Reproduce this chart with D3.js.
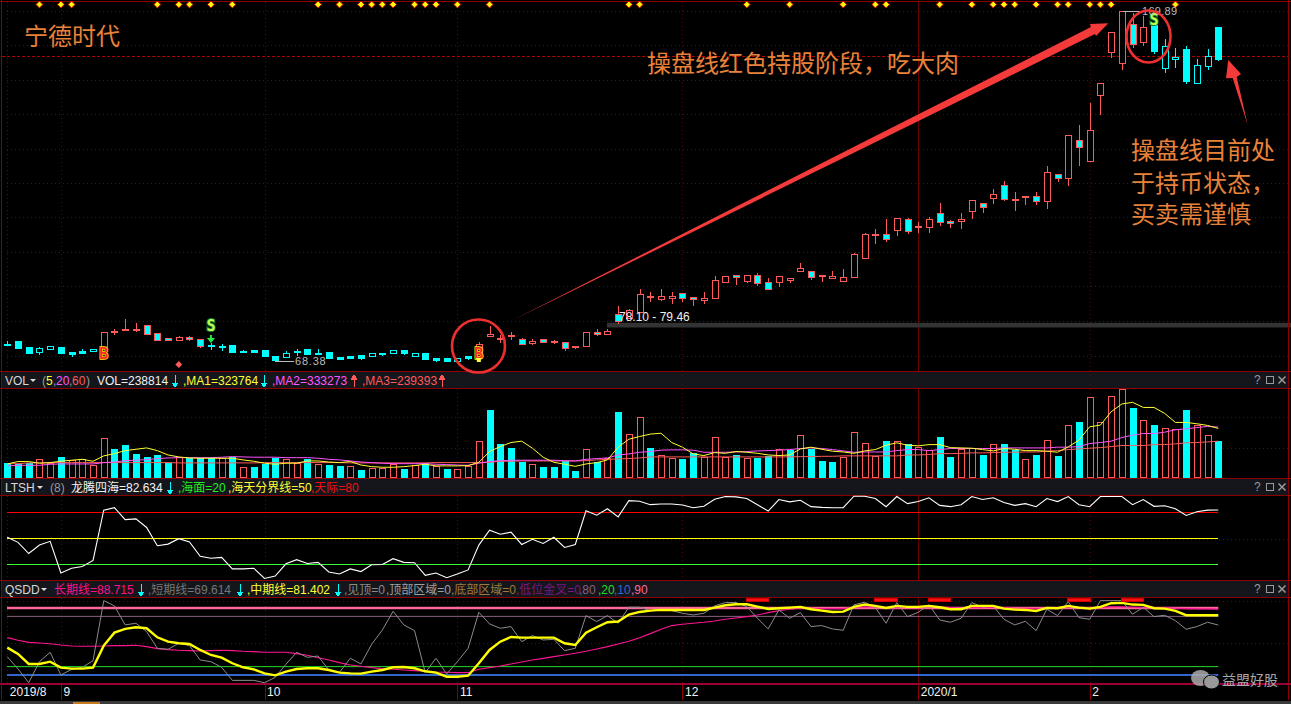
<!DOCTYPE html>
<html><head><meta charset="utf-8">
<script src="https://cdn.jsdelivr.net/npm/d3@7/dist/d3.min.js"></script>
<style>html,body{margin:0;padding:0;background:#000;overflow:hidden}svg{display:block}text{font-family:"Liberation Sans","Noto Sans CJK SC",sans-serif}</style>
</head><body><svg id="c" width="1291" height="704"></svg>
<script>
const opens=[73.17,74.09,72.44,71.08,71.95,72.44,71.0,71.37,71.19,72.35,
76.79,77.46,77.66,78.73,76.41,74.96,74.38,75.34,74.67,72.91,
72.62,73.02,71.28,71.48,71.48,69.83,69.63,71.0,71.77,70.79,
70.9,69.54,69.83,70.03,69.74,70.5,70.61,71.48,69.74,70.61,
69.16,69.25,68.38,69.74,69.83,75.72,74.88,75.63,74.67,73.69,
74.67,73.8,73.98,72.64,72.82,76.7,76.3,81.92,80.76,82.68,
87.23,86.45,86.73,88.01,86.85,86.16,86.73,91.38,93.23,91.67,
93.23,91.2,91.38,91.96,94.57,94.39,92.94,92.54,91.67,92.83,
98.25,104.83,105.12,106.46,109.65,107.15,107.33,111.21,108.89,108.89,
111.79,114.11,115.74,119.33,115.27,115.85,116.14,114.87,122.52,121.54,
132.38,126.47,145.61,158.08,154.89,166.02,160.98,165.82,153.44,155.87,
158.77,148.91,154.02,165.24];
const closes=[73.45,72.24,70.79,72.06,72.64,70.79,70.41,70.79,71.77,76.7,
77.08,77.66,77.8,76.3,74.38,74.38,75.34,74.67,72.64,72.73,
72.44,71.08,71.08,71.08,69.92,68.67,70.7,71.16,70.5,70.5,
69.34,69.05,69.34,69.34,70.7,70.7,71.48,70.79,70.61,69.05,
68.76,68.47,69.25,69.25,73.22,76.12,75.05,75.83,73.4,74.18,
73.8,74.18,72.24,72.44,76.7,76.12,77.0,80.07,83.26,87.72,
87.06,87.14,87.14,86.65,86.27,86.56,91.78,92.94,92.65,93.23,
91.09,89.35,92.94,92.36,95.26,92.83,93.23,92.94,92.65,99.32,
105.12,105.12,103.85,109.76,106.17,107.44,109.56,108.78,108.31,109.47,
114.98,113.13,116.72,115.45,115.45,116.32,114.87,123.1,121.54,133.83,
130.53,135.28,148.91,163.7,169.79,160.22,165.15,158.37,159.64,156.45,
149.58,154.13,156.74,155.96];
const highs=[74.18,74.09,72.44,72.35,72.64,72.44,71.0,71.86,71.77,76.7,
77.52,80.56,79.31,78.73,76.41,74.96,75.63,75.54,74.67,73.69,
73.31,73.02,71.66,71.48,71.48,69.83,71.37,71.86,71.77,71.77,
70.9,69.54,69.83,70.03,70.7,70.7,71.48,71.48,70.61,70.61,
69.16,69.25,69.25,69.74,73.8,78.53,75.92,76.79,75.05,74.76,
74.67,74.47,73.98,72.64,76.7,77.66,77.66,84.33,83.46,89.17,
88.3,89.17,88.39,88.01,86.85,88.39,92.94,92.94,93.23,93.23,
93.81,92.45,92.94,92.36,96.71,94.39,93.23,94.39,94.97,99.79,
105.5,106.57,109.56,109.76,109.94,108.78,110.14,114.2,109.27,111.21,
114.98,114.11,118.17,120.49,117.39,116.32,117.39,124.93,122.52,133.83,
136.82,143.2,148.91,163.7,169.89,169.21,168.43,165.82,161.67,159.06,
159.73,155.87,158.77,165.24];
const lows=[73.02,72.24,70.79,70.41,71.95,70.79,69.92,70.79,71.19,72.15,
76.21,77.46,77.08,76.3,74.38,74.38,74.38,74.38,72.35,71.95,
71.66,71.08,71.08,71.08,69.92,68.38,69.63,70.21,70.5,70.5,
69.34,68.87,69.34,69.05,69.74,70.12,70.61,70.41,69.74,69.05,
68.47,68.47,68.38,68.96,69.83,75.63,73.89,74.84,73.4,73.4,
73.8,73.51,71.57,72.15,72.82,75.92,76.3,79.49,80.76,82.68,
85.78,86.16,85.29,85.78,84.71,85.29,86.73,91.38,90.71,91.38,
90.51,89.35,90.13,91.38,94.57,92.25,91.67,92.54,91.67,92.83,
98.25,102.69,103.27,104.92,105.59,105.88,105.88,107.91,107.24,106.95,
109.85,111.59,114.29,115.07,112.17,114.0,114.0,112.84,120.67,119.42,
125.31,126.47,140.01,156.54,153.15,159.35,160.02,157.79,152.28,153.73,
149.09,148.91,153.06,155.76];
// first and last index of the red holding stages of the trading line
const redStages=[[9,18],[44,106]];
const volK=[94,87,94,118,96,134,112,118,80,259,187,214,154,134,147,94,136,125,125,125,125,136,67,67,89,129,118,92,118,87,80,74,74,47,62,58,87,54,80,96,
71,54,51,74,239,449,221,194,100,85,67,67,107,40,185,103,125,435,286,400,194,145,125,121,158,136,266,132,145,125,129,138,185,183,279,190,107,100,136,299,
230,141,239,237,219,203,179,266,132,187,196,145,217,219,179,123,145,250,138,350,366,531,364,538,585,460,377,346,330,317,446,344,283,239];
const volUp=[0,0,0,1,1,0,1,1,1,1,0,0,0,0,0,0,1,0,0,0,1,0,1,0,0,0,1,1,0,1,0,0,1,0,1,1,1,0,1,0,
1,0,1,1,1,0,0,0,0,1,0,0,0,0,1,0,1,0,1,1,0,1,1,0,0,1,1,1,0,1,0,0,1,0,1,0,0,0,1,1,
1,1,0,1,0,1,1,0,0,1,1,0,1,0,0,1,0,1,0,1,0,1,1,1,1,0,1,0,1,1,0,1,1,0];
const ma1=[87,103,103,92,96,105,112,118,105,141,156,176,185,194,176,147,134,127,125,125,125,125,114,105,92,85,92,92,107,107,100,96,103,80,69,65,65,69,76,85,
74,74,74,76,98,170,203,230,239,192,132,98,85,71,87,96,114,199,252,270,286,292,230,199,154,143,163,158,170,165,158,147,143,147,187,199,185,172,167,158,
174,183,212,228,212,208,216,216,196,194,192,183,174,190,185,176,176,172,165,201,246,335,346,435,487,498,464,464,424,364,364,355,344,324];
const ma2=[74,78,78,78,85,87,87,87,87,96,100,109,112,116,123,127,129,129,129,129,132,136,134,132,132,132,129,129,129,125,118,114,107,100,96,92,89,89,89,89,
85,83,80,78,92,103,109,112,112,112,112,112,109,107,118,123,127,147,154,165,170,179,181,181,179,165,165,165,167,170,174,176,179,183,190,194,190,183,174,165,
167,167,167,176,183,183,176,183,190,190,190,190,190,194,194,194,194,194,199,199,203,223,230,239,263,279,290,290,299,315,321,330,337,333];
const ma3=[89,89,94,94,96,96,96,96,96,96,96,96,96,96,96,96,94,94,94,94,94,94,94,94,96,96,96,96,96,96,96,96,94,94,94,94,94,94,94,94,
96,96,96,96,96,98,105,105,107,107,107,107,107,107,109,114,118,121,123,127,134,134,134,134,134,134,134,134,134,134,134,134,134,134,136,136,138,138,141,141,
141,141,141,141,147,147,150,156,156,158,161,161,163,165,165,167,167,172,176,183,187,192,196,203,210,210,210,216,216,221,228,230,234,239];
const ltsh=[51.2,45.3,32.4,42.2,46.5,10,15.5,17.5,24.5,82.5,85.3,71.6,72.4,62.5,41.4,43.3,49.6,45.7,29.2,26.9,28,14.7,14.7,15.5,3.7,6.5,20.6,25.3,21,22.2,11.2,8.8,14.7,11.6,19.4,19.8,26.5,22.2,21.8,7.3,
10,4.5,8.8,13.5,42.2,59.4,54.7,57.1,42.9,48.8,44.1,51.2,39.4,42.9,81.8,76.7,84.1,74.7,93.5,92.7,88.8,89.6,89.6,88.4,85.3,86.9,95.1,98.2,97.8,95.9,88.8,81.4,94.7,92,93.9,86.5,85.7,85.3,85.3,98.6,
98.6,95.9,86.5,98.2,90,92.4,96.7,88,86.5,88.8,98.2,94.7,96.7,91.2,88,90,86.5,95.9,92.4,98.2,88.8,86.5,98.2,98.2,98.2,88.8,94.7,86.9,87.6,84.1,76.3,80.6,82.5,82.634];
const ltshLevels=[{v:80,c:"#ff0000"},{v:50,c:"#ffff00"},{v:20,c:"#33ff33"}];
const qShort=[31.9,17.2,0.8,25.9,37.1,10,16.8,19.2,27.1,98.8,92.5,69.8,71.8,61.8,41.9,40.7,47.9,45.1,27.9,25.9,19.2,3.6,3.6,3.6,0.8,7.2,22.8,37.1,31.1,32.7,16,13.2,30,23.2,46.7,63.8,86.1,69.8,63,12.8,
30,11.2,25.9,41.9,84.9,71,65.8,67.8,49.8,57,51.8,52.6,39.1,41.9,80.9,73.8,80.9,71.8,90.9,90.9,86.9,88.5,86.9,83.7,81.7,83.7,92.5,96.5,96.5,91.7,77.7,65,87.7,77.7,84.5,67.8,69,65,63.4,93.7,
96.9,90.5,71.8,96.5,79.7,84.9,93.7,75.7,73,77.7,96.5,90.9,92.5,76.5,69.8,74.1,63,88.5,80.9,97.6,78.5,76.5,98.8,98.8,98.8,82.5,90.9,79.7,81.3,74.9,64.6,67.8,73,69.614];
const qMid=[42.7,35.1,23.2,23.2,25.9,18.8,17.6,17.6,18.8,45.1,60.6,65,67,65.8,55,49.8,47.9,47.1,39.9,33.9,30.7,24,19.2,16.8,12,9.6,14,17.2,18,18,16,12.8,12,11.6,14,16,19.2,19.6,18,14.4,
12.8,8,8,9.2,24,39.9,49.8,55.4,54.6,54.6,54.6,54.6,47.9,45.9,60.6,67,73,73.8,82.1,85.3,86.9,87.7,87.7,87.7,87.7,87.7,90.5,93.3,94.5,94.5,91.7,88.9,89.7,90.5,91.3,88.5,86.9,85.3,85.7,91.3,
94.1,92.5,90.1,92.5,91.3,91.3,92.5,90.9,88.5,88.5,92.5,92.5,92.5,89.3,88.1,87.7,86.5,90.1,89.7,92.5,90.5,89.3,91.3,95.7,96.1,94.1,93.7,89.7,89.3,86.5,81.4,81.4,81.4,81.402];
const qLong=[54.6,51.4,49,48.2,47.4,45.9,44.7,44.3,44.3,44.7,45.1,45.1,45.5,43.9,41.5,40.3,39.5,39.1,38.7,39.1,39.5,39.1,38.3,37.9,37.1,37.1,37.1,35.5,33.5,30.7,27.9,24.8,22,20.4,18.8,17.6,16.8,16,15.2,14.4,
13.6,13.2,12.8,12.8,16.8,18.8,20.8,23.2,25.5,27.9,29.9,31.9,33.9,35.9,38.3,41.1,43.9,47.1,50.2,54.6,59.4,64.6,69,70.6,71.8,73,74.5,76.5,78.1,79.7,81.7,84.5,86.9,88.5,89.7,89.7,89.3,89.3,89.3,90.9,
91.3,91.3,90.5,90.5,90.9,90.9,91.3,91.3,90.5,89.7,90.5,90.5,90.9,90.5,89.7,89.7,89.3,89.7,89.7,90.9,90.5,90.1,90.5,91.3,91.3,90.9,90.5,90.1,90.1,89.7,89.3,88.9,88.9,88.715];
const qLevels=[{v:90,c:"#ff6699",w:2.4},{v:80,c:"#8a6080",w:1},{v:20,c:"#22dd22",w:1},{v:10,c:"#3366cc",w:2}];
const qFlags=[[69,71],[81,83],[86,88],[99,101],[104,106]];
const signalDots=[3,5,6,14,16,17,19,21,29,31,33,34,35,36,38,39,40,42,45,58,59,69,73,78,81,82,87,90,92,93,94,96,98,99,101,102,103,109];
const monthIdx=[0,5,24,42,63,85,101];
const monthLabels=["2019/8","9","10","11","12","2020/1","2"];
const priceTicks=[169.89,159.9,150,140,129.9,120,110,100,90,80,69.9];

const W=1291,H=704,svg=d3.select("#c");
const RED="#ff5a5a",CY="#00ffff",BORDER="#8c0000",HDR="#14161c",GRID="#5a0a0a";
const idx=d3.range(opens.length);
const x=d3.scaleLinear().domain([0,113]).range([7.3,1218.3]);
const px=i=>Math.round(x(i))+0.5;
const yP=d3.scaleLinear().domain([68.38,169.89]).range([361,11]);
const yV=d3.scaleLinear().domain([0,585]).range([477,389.3]);
const yL=d3.scaleLinear().domain([50,80]).range([538.3,512.3]);
const yQ=d3.scaleLinear().domain([10,90]).range([675,608]);
const inRed=i=>redStages.some(s=>i>=s[0]&&i<=s[1]);

svg.append("rect").attr("width",W).attr("height",H).attr("fill","#000");
[[372,388],[479,495.5],[581,597.5]].forEach(a=>svg.append("rect").attr("x",2).attr("y",a[0]).attr("width",1286).attr("height",a[1]-a[0]).attr("fill",HDR));
svg.append("rect").attr("x",2).attr("y",685).attr("width",1286).attr("height",15).attr("fill","#000");
const grid=svg.append("g").attr("shape-rendering","crispEdges").attr("stroke",GRID).attr("stroke-dasharray","1 3");
priceTicks.map(yP).concat([416.7,447.5,538.5,600.5,642.5]).forEach(y=>grid.append("line").attr("x1",7).attr("x2",1288).attr("y1",Math.round(y)+.5).attr("y2",Math.round(y)+.5));
const panels=[[2,371],[389,477],[496,580],[598,683]];
monthIdx.slice(1).forEach((m,k)=>{ if(monthLabels[k+1]==="2020/1")return;
 panels.forEach(p=>grid.append("line").attr("x1",px(m)).attr("x2",px(m)).attr("y1",p[0]).attr("y2",p[1]));});
panels.forEach(p=>grid.append("line").attr("x1",7.5).attr("x2",7.5).attr("y1",p[0]).attr("y2",p[1]));
svg.append("g").attr("shape-rendering","crispEdges").selectAll("line").data(panels.concat([[685,700]])).join("line")
 .attr("x1",px(85)).attr("x2",px(85)).attr("y1",d=>d[0]).attr("y2",d=>d[1]).attr("stroke","#6a0000");
svg.append("line").attr("x1",2).attr("x2",1288).attr("y1",56.5).attr("y2",56.5).attr("stroke","#b00000").attr("stroke-dasharray","3 2").attr("shape-rendering","crispEdges");
svg.append("rect").attr("x",607).attr("y",yP(79.46)).attr("width",684).attr("height",yP(78.10)-yP(79.46)).attr("fill","#333");
const bd=svg.append("g").attr("shape-rendering","crispEdges").attr("stroke",BORDER);
[1.5,371.5,388.5,478.5,495.5,580.5,597.5].forEach(y=>bd.append("line").attr("x1",0).attr("x2",W).attr("y1",y).attr("y2",y));
bd.append("line").attr("x1",1.5).attr("x2",1.5).attr("y1",0).attr("y2",700);
bd.append("line").attr("x1",1288.5).attr("x2",1288.5).attr("y1",0).attr("y2",700);
svg.append("rect").attr("x",0).attr("y",683).attr("width",W).attr("height",2).attr("fill","#9a0033");
const cg=svg.append("g").attr("shape-rendering","crispEdges");
idx.forEach(i=>{
 const c=inRed(i)?RED:CY, hi=Math.round(yP(highs[i])), lo=Math.round(yP(lows[i])),
  t=Math.round(yP(Math.max(opens[i],closes[i]))), b=Math.round(yP(Math.min(opens[i],closes[i]))), down=closes[i]<opens[i], X=px(i);
 cg.append("line").attr("x1",X).attr("x2",X).attr("y1",hi).attr("y2",lo+1).attr("stroke",c);
 if(b-t<1){cg.append("line").attr("x1",X-3.5).attr("x2",X+3.5).attr("y1",t+.5).attr("y2",t+.5).attr("stroke",c).attr("stroke-width",2);}
 else cg.append("rect").attr("x",X-3).attr("width",6).attr("y",t+.5).attr("height",b-t)
  .attr("fill",down?CY:"#000").attr("stroke",c);
});
svg.append("g").selectAll("path").data(signalDots).join("path").attr("d",d3.symbol(d3.symbolDiamond2||d3.symbolDiamond,30))
 .attr("transform",d=>`translate(${x(d)},4.5)`).attr("fill","#ffff00").attr("stroke","#cc0000").attr("stroke-width",1);
svg.append("path").attr("d",d3.symbol(d3.symbolDiamond2||d3.symbolDiamond,30)).attr("transform",`translate(${x(16)},364.5)`).attr("fill","#ff5a5a");
function sig(i,y,s,f,st,w){svg.append("text").attr("x",x(i)).attr("y",y).attr("text-anchor","middle").style("font-family","'DejaVu Sans Mono'").attr("font-size",15).attr("font-weight","bold").attr("fill",f).attr("stroke",st).attr("stroke-width",w).style("paint-order","stroke").text(s);}
sig(9,359,"B","#ff2a2a","#ffe600",1.4);sig(44,359,"B","#ff2a2a","#ffe600",1.4);
sig(19,331,"S","#c0ff50","#0c7a30",2);sig(107,25,"S","#c0ff50","#0c7a30",2);
svg.append("path").attr("d",`M${x(19)-1},335 h2 v3 h3 l-4,5 l-4,-5 h3 z`).attr("fill","#22ee44");
svg.append("path").attr("d",`M${x(44)-2},358 h4 v4 h-4 z M${x(44)-3},358 h6 v1 h-6 z`).attr("fill","#ffff33");
const gl=svg.append("g").attr("stroke","#bbb").attr("shape-rendering","crispEdges");
gl.append("line").attr("x1",px(25)).attr("x2",294).attr("y1",yP(68.38)+.5).attr("y2",yP(68.38)+.5);
gl.append("line").attr("x1",px(104)).attr("x2",1142).attr("y1",yP(169.89)+.5).attr("y2",yP(169.89)+.5);
function t(xx,y,s,c,fs,o={}){const e=svg.append("text").attr("x",xx).attr("y",y).attr("fill",c).attr("font-size",fs).text(s);
 if(o.ls)e.attr("letter-spacing",o.ls); if(o.anchor)e.attr("text-anchor",o.anchor); if(o.family)e.style("font-family",o.family); return e;}
t(295,365,"68.38","#bbb",11,{ls:"0.8px"});t(1142,15,"169.89","#bbb",11,{ls:"0.3px"});
t(619,321,"78.10 - 79.46","#f0f0f0",12);
const vg=svg.append("g").attr("shape-rendering","crispEdges");
idx.forEach(i=>{const X=px(i),y=Math.round(yV(volK[i]));
 vg.append("rect").attr("x",X-3).attr("width",6).attr("y",y+.5).attr("height",477-y-.5).attr("fill",volUp[i]?"#000":CY).attr("stroke",volUp[i]?RED:CY);});
const line=(arr,sc)=>d3.line().x((d,i)=>x(i)).y(d=>sc(d))(arr);
[[ma3,"#ff5a5a"],[ma2,"#ff55ff"],[ma1,"#ffff33"]].forEach(a=>svg.append("path").attr("d",line(a[0],yV)).attr("fill","none").attr("stroke",a[1]).attr("stroke-width",1));
ltshLevels.forEach(l=>svg.append("line").attr("x1",7).attr("x2",x(113)).attr("y1",Math.round(yL(l.v))+.5).attr("y2",Math.round(yL(l.v))+.5).attr("stroke",l.c).attr("shape-rendering","crispEdges"));
svg.append("path").attr("d",line(ltsh,yL)).attr("fill","none").attr("stroke","#fff").attr("stroke-width",1.1);
qLevels.forEach(l=>svg.append("line").attr("x1",7).attr("x2",x(113)).attr("y1",yQ(l.v)).attr("y2",yQ(l.v)).attr("stroke",l.c).attr("stroke-width",l.w));
svg.append("path").attr("d",line(qLong,yQ)).attr("fill","none").attr("stroke","#ff1493").attr("stroke-width",1.1);
svg.append("path").attr("d",line(qShort,yQ)).attr("fill","none").attr("stroke","#8c8c8c").attr("stroke-width",1);
svg.append("path").attr("d",line(qMid,yQ)).attr("fill","none").attr("stroke","#ffff00").attr("stroke-width",2.4);
svg.append("g").selectAll("rect").data(qFlags).join("rect").attr("x",d=>x(d[0])-.5).attr("width",d=>x(d[1])-x(d[0])+1).attr("y",598).attr("height",3).attr("fill","#ff1010").attr("stroke","#d00000").attr("shape-rendering","crispEdges");
const xAxis=d3.axisBottom(x).tickValues(monthIdx).tickFormat((d,i)=>monthLabels[i]).tickSizeOuter(0).tickSize(15);
const ax=svg.append("g").attr("transform","translate(0,685)").call(xAxis);
ax.select(".domain").remove();
ax.selectAll("line").attr("stroke","#8c0000").attr("shape-rendering","crispEdges");
ax.selectAll("text").attr("fill","#f4f4f4").attr("font-size",12).attr("text-anchor","start").attr("x",2).attr("y",2).attr("dy","0.71em").style("font-family","'Liberation Sans'");
ax.selectAll(".tick").filter((d,i)=>i===0).select("line").attr("stroke","none");
svg.append("rect").attr("x",0).attr("y",701).attr("width",W).attr("height",3).attr("fill","#3a3a3a");
svg.append("rect").attr("x",73).attr("y",702).attr("width",27).attr("height",2).attr("fill","#c87a20");
function arrow(xx,up,c,y0,y1){const a=up?y0:y1,b=up?y1:y0,d=up?4:-4;
 svg.append("path").attr("d",`M${xx},${b} L${xx},${a} M${xx-2.5},${a+d} L${xx},${a} L${xx+2.5},${a+d} Z`).attr("stroke",c).attr("fill",c).attr("stroke-width",1).attr("shape-rendering","crispEdges");}
function dropdown(xx,y){svg.append("path").attr("d",`M${xx},${y} h6 l-3,3 z`).attr("fill","#ddd");}
const headerVol=[[5,"VOL","#d8d8d8"],[42,"(","#999"],[46,"5","#ffff33"],[53,",","#999"],[56,"20","#ff55ff"],[69,",","#999"],[72,"60","#ff5a5a"],[86,")","#999"],[97,"VOL=238814","#f0f0f0"],[183,",MA1=323764","#ffff33"],[272,",MA2=333273","#ff55ff"],[362,",MA3=239393","#ff5a5a"]];
headerVol.forEach(a=>t(a[0],385,a[1],a[2],12));
dropdown(30,379);
arrow(175,false,CY,375,387);arrow(264,false,CY,375,387);arrow(354,true,"#ff5a5a",375,387);arrow(442,true,"#ff5a5a",375,387);
const headerL=[[5,"LTSH","#d8d8d8"],[50,"(8)","#999"],[71,"龙腾四海=82.634","#f4f4f4"],[178,",海面=20","#22ee22"],[228,",海天分界线=50","#ffff33"],[311,",天际=80","#ee1111"]];
headerL.forEach(a=>t(a[0],492,a[1],a[2],12));
dropdown(37,486);arrow(170,false,CY,482,494);
const headerQ=[[5,"QSDD","#d8d8d8"],[54,"长期线=88.715","#ff0f8f"],[148,",短期线=69.614","#777"],[247,",中期线=81.402","#ffff33"],[344,",见顶=0","#8a8a8a"],[386,",顶部区域=0","#a0a0a0"],[451,",底部区域=0","#a07a3a"],[516,",低位金叉=0","#7d1580"],[579,",80","#8a6080"],[598,",20","#22dd22"],[614,",10","#3366cc"],[631,",90","#ff6699"]];
headerQ.forEach(a=>t(a[0],594,a[1],a[2],12));
dropdown(41,588);arrow(141,false,CY,584,596);arrow(240,false,CY,584,596);arrow(338,false,CY,584,596);
[380,487,589].forEach(yc=>{
 t(1254,yc+4,"?","#999",12,{});
 svg.append("rect").attr("x",1266.5).attr("y",yc-3.5).attr("width",7).attr("height",7).attr("fill","none").attr("stroke","#999").attr("shape-rendering","crispEdges");
 svg.append("path").attr("d",`M${1278.5},${yc-3.5} l7,7 M${1285.5},${yc-3.5} l-7,7`).attr("stroke","#999").attr("stroke-width",1.5);
});
const ORG="#e8823a", CJK="'Noto Sans CJK SC'";
[[24,45,"宁德时代"],[647,72,"操盘线红色持股阶段，吃大肉"],[1131,159,"操盘线目前处"],[1131,192,"于持币状态，"],[1131,223,"买卖需谨慎"]].forEach(a=>t(a[0],a[1],a[2],ORG,24,{family:CJK}));
const AR="#f53a3a";
svg.append("path").attr("d","M513,320 L860,143.8 L1091,27 L1090,24 L1108.3,23.3 L1096,36 L1095,34 L860,149.8 Z").attr("fill",AR);
svg.append("path").attr("d","M1228.3,60 L1241,74 L1236.7,77 L1247.7,125 L1232.7,78 L1226,78.3 Z").attr("fill",AR);
svg.append("circle").attr("cx",478.5).attr("cy",346).attr("r",26.5).attr("fill","none").attr("stroke","#ee2f2f").attr("stroke-width",2.6);
svg.append("ellipse").attr("cx",1148.5).attr("cy",36.5).attr("rx",22).attr("ry",26).attr("fill","none").attr("stroke","#ee2f2f").attr("stroke-width",2.6);
svg.append("ellipse").attr("cx",1200.5).attr("cy",678).attr("rx",9.5).attr("ry",8).attr("fill","#aaa").attr("fill-opacity",.85);
svg.append("ellipse").attr("cx",1211.5).attr("cy",682).attr("rx",8).attr("ry",7).attr("fill","#999").attr("stroke","#000");
t(1222,685,"益盟好股","#a8a8a8",14,{family:CJK});
</script></body></html>
